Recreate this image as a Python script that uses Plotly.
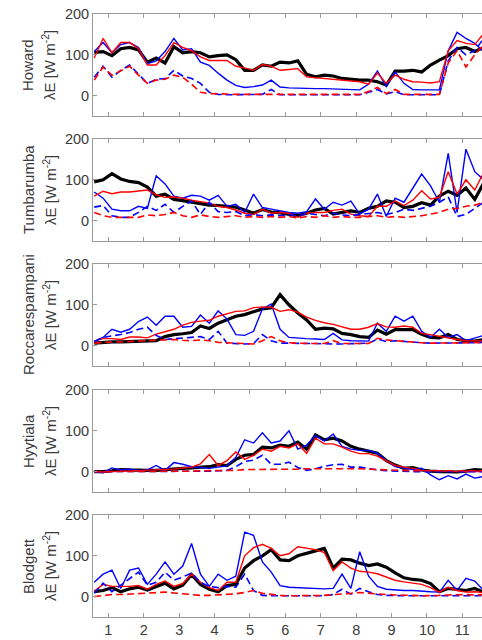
import plotly.graph_objects as go

# ---------------- data ----------------
months = [0.6, 0.85, 1.1, 1.35, 1.6, 1.85, 2.1, 2.35, 2.6, 2.85, 3.1, 3.35, 3.6, 3.85,
          4.1, 4.35, 4.6, 4.85, 5.1, 5.35, 5.6, 5.85, 6.1, 6.35, 6.6, 6.85, 7.1, 7.35,
          7.6, 7.85, 8.1, 8.35, 8.6, 8.85, 9.1, 9.35, 9.6, 9.85, 10.1, 10.35, 10.6,
          10.85, 11.1, 11.35, 11.6]
x_ticks = [1, 2, 3, 4, 5, 6, 7, 8, 9, 10, 11]
y_ticks = [0, 100, 200]
sites = ["Howard", "Tumbarumba", "Roccarespampani", "Hyytiala", "Blodgett"]

howard_obs = [106, 108, 98, 115, 118, 112, 82, 92, 80, 120, 105, 108, 105, 95, 98, 100, 88, 62, 62, 75,
              72, 82, 80, 85, 52, 46, 50, 48, 42, 40, 38, 38, 34, 26, 60, 60, 62, 58, 75, 87,
              98, 115, 118, 108, 118]
howard_red = [92, 140, 105, 130, 130, 115, 75, 75, 98, 130, 118, 110, 95, 86, 86, 86, 72, 68, 62, 76,
              72, 62, 64, 66, 46, 44, 42, 40, 38, 36, 34, 28, 55, 30, 50, 40, 34, 33, 31, 34,
              110, 135, 128, 125, 152]
howard_blue = [108, 130, 105, 125, 130, 118, 78, 85, 108, 140, 112, 115, 82, 74, 55, 38, 25, 20, 22, 26,
               38, 21, 19, 18, 18, 17, 17, 16, 16, 15, 14, 28, 60, 22, 58, 30, 15, 14, 14, 14,
               110, 155, 140, 128, 108]
howard_red_dash = [38, 70, 50, 60, 72, 50, 30, 38, 40, 50, 45, 28, 8, 5, 5, 4, 3, 3, 3, 3,
                   3, 3, 3, 3, 3, 3, 3, 3, 3, 3, 3, 10, 20, 5, 15, 3, 3, 3, 3, 3,
                   80, 110, 70, 100, 125]
howard_blue_dash = [45, 72, 45, 62, 75, 52, 30, 40, 42, 62, 48, 42, 30, 8, 3, 2, 2, 2, 2, 3,
                    15, 2, 2, 2, 2, 2, 2, 2, 2, 2, 2, 8, 15, 4, 10, 2, 2, 2, 2, 2,
                    85, 118, 100, 110, 140]

tumba_obs = [95, 100, 115, 102, 96, 93, 82, 60, 65, 52, 49, 45, 41, 38, 37, 35, 33, 26, 18, 27,
             21, 19, 15, 12, 18, 26, 30, 16, 20, 24, 20, 30, 35, 48, 45, 32, 35, 44, 38, 60,
             72, 62, 80, 52, 92]
tumba_red = [60, 72, 66, 70, 70, 73, 75, 63, 57, 58, 55, 50, 47, 43, 35, 32, 26, 18, 15, 28,
             18, 20, 18, 8, 18, 20, 20, 25, 28, 16, 12, 10, 35, 35, 48, 37, 50, 73, 53, 57,
             120, 65, 100, 75, 118]
tumba_blue = [70, 55, 28, 24, 24, 35, 30, 110, 90, 60, 55, 62, 60, 50, 62, 35, 40, 20, 65, 32,
              28, 24, 20, 18, 22, 53, 28, 45, 38, 48, 16, 28, 65, 10, 55, 45, 80, 114, 85, 45,
              165, 20, 175, 120, 100]
tumba_red_dash = [20, 12, 8, 8, 8, 8, 14, 12, 15, 20, 12, 8, 14, 10, 8, 10, 12, 8, 10, 8,
                  10, 8, 10, 6, 10, 8, 12, 8, 10, 8, 8, 10, 12, 8, 10, 8, 10, 12, 16, 20,
                  28, 30, 35, 38, 45]
tumba_blue_dash = [33, 37, 12, 8, 8, 20, 35, 25, 40, 20, 35, 48, 15, 45, 22, 20, 22, 12, 15, 12,
                   14, 12, 15, 10, 18, 15, 12, 18, 14, 12, 15, 18, 20, 15, 20, 28, 25, 30, 35, 45,
                   58, 10, 15, 30, 45]

rocca_obs = [6, 8, 9, 9, 10, 10, 11, 12, 22, 27, 29, 32, 48, 42, 55, 63, 72, 76, 83, 90,
             93, 125, 100, 80, 63, 40, 43, 41, 30, 27, 22, 20, 38, 28, 39, 39, 39, 28, 20, 19,
             27, 15, 12, 11, 15]
rocca_red = [11, 17, 17, 15, 21, 21, 19, 28, 34, 40, 50, 57, 60, 62, 72, 78, 84, 85, 93, 95,
             94, 84, 88, 82, 70, 62, 56, 52, 46, 40, 40, 45, 54, 46, 45, 48, 45, 30, 27, 23,
             18, 15, 12, 11, 11]
rocca_blue = [10, 20, 40, 33, 40, 59, 70, 50, 72, 72, 45, 47, 75, 55, 85, 65, 27, 25, 35, 90,
              102, 40, 20, 18, 17, 16, 15, 30, 14, 12, 11, 11, 55, 35, 72, 60, 72, 35, 20, 40,
              20, 27, 12, 18, 25]
rocca_red_dash = [6, 8, 9, 9, 10, 11, 11, 12, 13, 15, 13, 12, 14, 12, 8, 7, 6, 5, 4, 12,
                  22, 12, 7, 6, 5, 5, 5, 12, 5, 5, 5, 5, 18, 14, 12, 10, 8, 7, 6, 6,
                  6, 7, 6, 7, 8]
rocca_blue_dash = [10, 20, 24, 27, 32, 40, 45, 25, 15, 17, 19, 21, 22, 15, 35, 6, 5, 4, 5, 27,
                   12, 6, 6, 5, 5, 5, 4, 4, 4, 5, 5, 6, 16, 10, 12, 10, 8, 7, 6, 6,
                   6, 6, 6, 7, 8]

hyyt_obs = [0, 0, 2, 5, 4, 3, 3, 3, 5, 6, 8, 9, 11, 12, 17, 15, 30, 40, 42, 60,
            58, 65, 62, 72, 55, 90, 78, 82, 75, 62, 55, 50, 45, 27, 16, 8, 10, 4, 1, 0,
            0, -1, 1, 5, 3]
hyyt_red = [0, -1, 0, 1, 2, 2, 3, 4, 5, 6, 9, 11, 19, 42, 15, 27, 48, 30, 40, 55,
            50, 62, 58, 68, 45, 82, 68, 68, 60, 50, 44, 44, 38, 27, 15, 11, 8, 3, 2, 2,
            1, 0, 1, 0, 0]
hyyt_blue = [0, -3, 9, 4, 6, 3, 4, 15, 3, 22, 18, 12, 10, 8, 11, 14, 35, 78, 70, 95,
             70, 75, 100, 55, 65, 88, 75, 92, 62, 55, 52, 52, 45, 27, 12, 8, 5, 8, -8, -20,
             -10, -18, -6, -16, -12]
hyyt_red_dash = [0, 0, 0, 0, 0, 0, 1, 1, 1, 1, 1, 1, 2, 2, 2, 2, 3, 5, 5, 5,
                 5, 6, 6, 6, 7, 7, 7, 7, 8, 8, 7, 6, 5, 4, 3, 3, 2, 2, 2, 2,
                 2, 2, 2, 2, 2]
hyyt_blue_dash = [0, 0, 0, 0, 0, 0, 0, 1, 1, 1, 1, 1, 1, 1, 2, 3, 12, 25, 28, 40,
                  18, 18, 23, 10, 3, 7, 13, 17, 18, 11, 11, 7, 4, 2, 1, 1, 0, 0, 0, 0,
                  0, 0, 0, 0, 0]

blod_obs = [12, 15, 22, 12, 19, 23, 16, 25, 33, 19, 28, 54, 30, 18, 12, 27, 30, 70, 88, 100,
            115, 90, 88, 100, 105, 112, 118, 70, 92, 90, 82, 76, 80, 72, 58, 46, 42, 40, 32, 12,
            20, 18, 15, 20, 11]
blod_red = [13, 30, 25, 25, 25, 27, 18, 30, 38, 25, 32, 55, 35, 22, 15, 35, 35, 100, 120, 128,
            118, 100, 105, 122, 118, 115, 108, 64, 85, 70, 62, 60, 56, 48, 40, 36, 33, 30, 22, 11,
            23, 15, 11, 12, 10]
blod_blue = [35, 55, 65, 20, 65, 70, 30, 55, 85, 55, 75, 130, 55, 25, 55, 40, 50, 158, 150, 85,
             60, 27, 23, 22, 22, 20, 19, 20, 55, 20, 110, 50, 25, 18, 16, 15, 15, 13, 12, 11,
             40, 15, 45, 38, 15]
blod_red_dash = [0, 3, 5, 5, 6, 7, 8, 9, 11, 9, 7, 5, 3, 3, 4, 5, 7, 10, 15, 8,
                 5, 3, 2, 2, 2, 2, 3, 5, 6, 8, 10, 8, 6, 5, 4, 4, 3, 2, 2, 3,
                 4, 5, 5, 4, 5]
blod_blue_dash = [8, 33, 12, 28, 45, 60, 28, 35, 60, 40, 48, 58, 35, 25, 22, 25, 23, 55, 15, 3,
                  2, 2, 2, 2, 2, 2, 2, 5, 18, 6, 20, 12, 5, 3, 2, 2, 2, 2, 2, 2,
                  2, 2, 2, 2, 2]

site_series = [
    (howard_obs, howard_red, howard_blue, howard_red_dash, howard_blue_dash),
    (tumba_obs, tumba_red, tumba_blue, tumba_red_dash, tumba_blue_dash),
    (rocca_obs, rocca_red, rocca_blue, rocca_red_dash, rocca_blue_dash),
    (hyyt_obs, hyyt_red, hyyt_blue, hyyt_red_dash, hyyt_blue_dash),
    (blod_obs, blod_red, blod_blue, blod_red_dash, blod_blue_dash),
]

# ---------------- layout geometry ----------------
W, H = 482, 640
M_L, M_R, M_T, M_B = 93, 0, 14, 23
panel_tops = [14, 139, 264, 390, 515]
panel_h = 102
plot_h = H - M_T - M_B
plot_bottom = H - M_B

AX_COL = "#9a9a9a"
TXT_COL = "#3a3a3a"
FONT = "Liberation Sans, Arial, Helvetica, sans-serif"

fig = go.Figure()
layout = dict(
    width=W, height=H,
    margin=dict(l=M_L, r=M_R, t=M_T, b=M_B, pad=0),
    paper_bgcolor="white", plot_bgcolor="white",
    showlegend=False,
    font=dict(family=FONT, color=TXT_COL, size=14),
    annotations=[],
)

for i, (site, series) in enumerate(zip(sites, site_series)):
    n = i + 1
    xa = "x" if n == 1 else f"x{n}"
    ya = "y" if n == 1 else f"y{n}"
    obs, red, blue, red_d, blue_d = series
    styles = [
        (obs, "black", 3.2, "solid"),
        (blue, "#0000ff", 1.4, "solid"),
        (red, "#ff0000", 1.4, "solid"),
        (blue_d, "#0000ff", 1.6, "7px,4px"),
        (red_d, "#ff0000", 1.6, "7px,4px"),
    ]
    for yv, col, lw, dash in styles:
        fig.add_trace(go.Scatter(x=months, y=yv, xaxis=xa, yaxis=ya, mode="lines",
                                 line=dict(color=col, width=lw, dash=dash),
                                 hoverinfo="skip"))
    top = panel_tops[i]
    d0 = (plot_bottom - (top + panel_h)) / plot_h
    d1 = (plot_bottom - top) / plot_h
    xkey = "xaxis" if n == 1 else f"xaxis{n}"
    ykey = "yaxis" if n == 1 else f"yaxis{n}"
    layout[xkey] = dict(
        domain=[0, 1], anchor=ya, range=[0.565, 11.554],
        tickmode="array", tickvals=x_ticks, ticktext=[str(t) for t in x_ticks],
        ticks="inside", ticklen=4, tickwidth=1, tickcolor=AX_COL,
        showline=True, linecolor=AX_COL, linewidth=1, mirror="ticks",
        showgrid=False, zeroline=False,
        showticklabels=(n == len(sites)),
        tickfont=dict(size=14.5, color=TXT_COL, family=FONT),
    )
    layout[ykey] = dict(
        domain=[d0, d1], anchor=xa, range=[-50, 200],
        tickmode="array", tickvals=y_ticks, ticktext=[str(t) for t in y_ticks],
        ticks="inside", ticklen=4, tickwidth=1, tickcolor=AX_COL,
        showline=True, linecolor=AX_COL, linewidth=1, mirror=False,
        showgrid=False, zeroline=False,
        tickfont=dict(size=14.5, color=TXT_COL, family=FONT),
    )
    ymid = (d0 + d1) / 2
    layout["annotations"].append(dict(
        text=site, xref="paper", yref="paper", x=(28 - M_L) / (W - M_L - M_R), y=ymid,
        xanchor="center", yanchor="middle", textangle=-90, showarrow=False,
        font=dict(size=15, color=TXT_COL, family=FONT)))
    layout["annotations"].append(dict(
        text="λE [W m<sup>-2</sup>]", xref="paper", yref="paper",
        x=(49 - M_L) / (W - M_L - M_R), y=ymid,
        xanchor="center", yanchor="middle", textangle=-90, showarrow=False,
        font=dict(size=15, color=TXT_COL, family=FONT)))

fig.update_layout(**layout)
fig.write_html("out.html")
